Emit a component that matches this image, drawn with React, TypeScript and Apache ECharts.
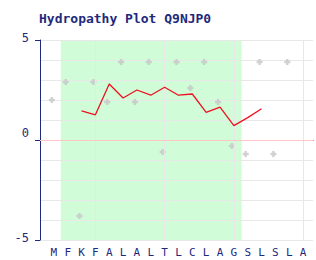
import React, { useEffect, useRef } from "react";
import * as echarts from "echarts";

const titleText = "Hydropathy Plot Q9NJP0";
const residues = ["M", "F", "K", "F", "A", "L", "A", "L", "T", "L", "C", "L", "A", "G", "S", "L", "S", "L", "A"];
const residueScores = [1.9, 2.8, -3.9, 2.8, 1.8, 3.8, 1.8, 3.8, -0.7, 3.8, 2.5, 3.8, 1.8, -0.4, -0.8, 3.8, -0.8, 3.8];
const windowPositions = [3, 4, 5, 6, 7, 8, 9, 10, 11, 12, 13, 14, 15, 16];
const windowScores = [1.46, 1.26, 2.8, 2.1, 2.5, 2.24, 2.64, 2.24, 2.3, 1.38, 1.64, 0.72, 1.12, 1.56];
const tmRegion = [1.5, 14.55];
const vGridAt = [4, 9, 14, 19];
const yTickLabels = [-5, 0, 5];

const BLUE = "#1f2a7c";
const FONT = "'DejaVu Sans Mono', monospace";

export default function App() {
  const ref = useRef<HTMLDivElement>(null);
  useEffect(() => {
    document.body.style.margin = "0";
    const chart = echarts.init(ref.current!, null, { renderer: "svg" });
    chart.setOption({
      animation: false,
      backgroundColor: "#ffffff",
      title: {
        text: titleText,
        left: 34,
        top: 7,
        textStyle: { fontFamily: FONT, fontSize: 13, fontWeight: "bold", color: BLUE },
      },
      grid: { left: 40, top: 40, right: 0, bottom: 20, containLabel: false },
      xAxis: {
        type: "value",
        min: 0,
        max: 19.714,
        interval: 1,
        axisLine: { show: true, lineStyle: { color: BLUE, width: 1 } },
        axisTick: { show: false },
        splitLine: { show: false },
        axisLabel: {
          margin: 7,
          fontFamily: FONT,
          fontSize: 11,
          color: BLUE,
          formatter: (v: number) => (v >= 1 && v <= residues.length ? residues[v - 1] : ""),
        },
      },
      yAxis: [
        {
          type: "value",
          min: -5,
          max: 5,
          interval: 5,
          z: 3,
          axisLine: { show: true, lineStyle: { color: BLUE, width: 1 } },
          axisTick: { show: true, length: 5, lineStyle: { color: BLUE } },
          splitLine: { show: false },
          axisLabel: {
            margin: 11,
            fontFamily: FONT,
            fontSize: 12,
            color: BLUE,
            formatter: (v: number) => (yTickLabels.includes(v) ? (v === 0 ? "{z|0}" : "{e|" + v + "}") : ""),
            rich: {
              z: { fontFamily: FONT, fontSize: 12, color: BLUE, padding: [0, 0, 14, 0] },
              e: { fontFamily: FONT, fontSize: 12, color: BLUE, padding: [0, 0, 4, 0] },
            },
          },
        },
        {
          type: "value",
          min: -5,
          max: 5,
          interval: 1,
          z: 2,
          axisLine: { show: false },
          axisTick: { show: false },
          axisLabel: { show: false },
          splitLine: { show: true, lineStyle: { color: "#e8e8e8", width: 1 } },
        },
      ],
      series: [
        {
          type: "line",
          data: [],
          z: 1,
          silent: true,
          markArea: {
            silent: true,
            itemStyle: { color: "#d0fcd8" },
            data: [[{ xAxis: tmRegion[0] }, { xAxis: tmRegion[1] }]],
          },
        },
        {
          type: "line",
          data: [],
          z: 2,
          silent: true,
          markLine: {
            silent: true,
            symbol: "none",
            label: { show: false },
            lineStyle: { color: "#e8e8e8", type: "solid", width: 1 },
            data: vGridAt.map((x) => ({ xAxis: x })),
          },
        },
        {
          type: "line",
          data: [],
          z: 3,
          silent: true,
          markLine: {
            silent: true,
            symbol: "none",
            label: { show: false },
            lineStyle: { color: "#ffc4c4", type: "solid", width: 1 },
            data: [{ yAxis: 0 }],
          },
        },
        {
          type: "scatter",
          z: 4,
          symbol: "path://M1.5,0h2v1.5h1.5v2h-1.5v1.5h-2v-1.5h-1.5v-2h1.5z",
          symbolSize: 6,
          symbolOffset: [-2, -2],
          itemStyle: { color: "#c6c6c6" },
          data: residueScores.map((v, i) => [i + 1, v]),
        },
        {
          type: "line",
          z: 5,
          symbol: "none",
          lineStyle: { color: "#ee1122", width: 1.3 },
          data: windowScores.map((v, i) => [windowPositions[i], v]),
        },
      ],
    });
    return () => chart.dispose();
  }, []);
  return <div ref={ref} style={{ width: 316, height: 260 }} />;
}
